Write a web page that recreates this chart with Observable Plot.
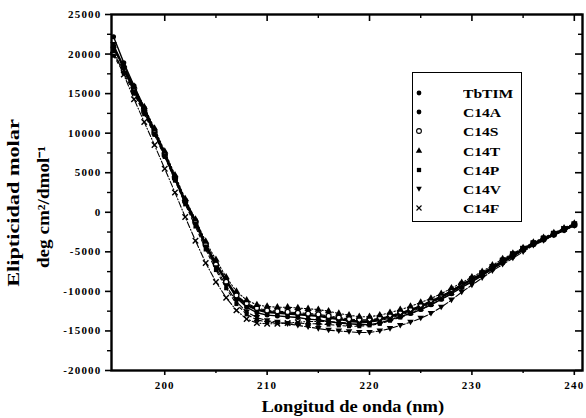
<!DOCTYPE html>
<html><head><meta charset="utf-8">
<script src="https://cdn.jsdelivr.net/npm/d3@7"></script>
<script src="https://cdn.jsdelivr.net/npm/@observablehq/plot@0.6"></script>
<style>
body{margin:0;background:#fff;}
#wrap{position:relative;width:586px;height:418px;overflow:hidden;font-family:"Liberation Serif",serif;font-weight:bold;color:#000;background:#fff}
#wrap svg{position:absolute;left:0;top:0}
.lab{position:absolute;white-space:nowrap;line-height:1;font-weight:bold}
#legend{position:absolute;left:412px;top:72px;width:108px;height:148px;border:1.5px solid #000;background:#fff}
.row{position:absolute;left:0;height:14px;width:100%}
.row svg{position:absolute;left:22px;top:1px}
.row span{position:absolute;left:50px;top:0;font-size:12px;transform-origin:0 50%;white-space:nowrap}
#wrap g[aria-label$="tick label"] text{letter-spacing:1.2px}
</style></head><body><div id="wrap"></div>
<script>
// wavelength (nm)
const wavelength = [195,196,197,198,199,200,201,202,203,204,205,206,207,208,209,210,211,212,213,214,215,216,217,218,219,220,221,222,223,224,225,226,227,228,229,230,231,232,233,234,235,236,237,238,239,240];
const seriesNames = ["TbTIM","C14A","C14S","C14T","C14P","C14V","C14F"];
// molar ellipticity (deg cm2/dmol)
const TbTIM = [21000,18300,15600,13000,10200,7300,4300,1300,-1200,-4200,-6600,-8600,-10600,-11700,-12300,-12600,-12700,-12800,-12900,-13000,-13100,-13300,-13500,-13700,-13800,-13800,-13500,-13200,-12800,-12400,-11900,-11300,-10700,-10000,-9200,-8500,-7800,-7000,-6200,-5400,-4700,-4000,-3400,-2800,-2200,-1600];
const C14A = [22200,18900,16000,13200,10400,7500,4500,1500,-1000,-4000,-6400,-8700,-10800,-12000,-12700,-13000,-13100,-13200,-13300,-13500,-13600,-13800,-14000,-14100,-14200,-14200,-14000,-13600,-13200,-12800,-12300,-11700,-11000,-10300,-9500,-8800,-8000,-7200,-6400,-5600,-4800,-4100,-3500,-2900,-2300,-1700];
const C14S = [20000,18000,15300,12700,10000,7200,4300,1400,-1300,-4100,-6600,-8800,-10500,-11500,-12100,-12400,-12500,-12600,-12700,-12800,-12900,-13100,-13300,-13500,-13600,-13600,-13400,-13100,-12700,-12300,-11800,-11200,-10600,-9900,-9100,-8400,-7700,-6900,-6100,-5300,-4600,-3900,-3300,-2700,-2100,-1500];
const C14T = [20400,18600,15900,13300,10600,7700,4700,1700,-900,-3700,-6000,-8200,-10000,-11100,-11700,-11900,-12000,-12000,-12100,-12200,-12300,-12500,-12800,-13000,-13200,-13200,-13000,-12700,-12300,-11900,-11400,-10900,-10300,-9600,-8900,-8200,-7500,-6700,-5900,-5200,-4500,-3800,-3200,-2600,-2000,-1400];
const C14P = [19800,17600,15000,12400,9800,7000,4000,1000,-1800,-4700,-7300,-9600,-11600,-12900,-13600,-13900,-14000,-14000,-14000,-14100,-14100,-14200,-14300,-14400,-14400,-14300,-14100,-13700,-13300,-12800,-12300,-11700,-11000,-10300,-9500,-8700,-7900,-7100,-6300,-5500,-4800,-4100,-3400,-2800,-2200,-1600];
const C14V = [21200,18000,15200,12600,9900,7100,4200,1200,-1500,-4400,-7000,-9300,-11300,-12600,-13300,-13700,-13900,-14100,-14300,-14500,-14700,-14900,-15000,-15100,-15200,-15200,-15000,-14700,-14300,-13900,-13400,-12800,-12000,-11100,-10100,-9200,-8300,-7400,-6600,-5800,-5000,-4200,-3600,-2900,-2300,-1700];
const C14F = [20500,17400,14300,11400,8500,5500,2500,-600,-3600,-6400,-8800,-10800,-12400,-13500,-14000,-14100,-14100,-14000,-13900,-13800,-13800,-13800,-13900,-14000,-14000,-13900,-13700,-13400,-13000,-12600,-12100,-11500,-10800,-10100,-9300,-8500,-7700,-6900,-6100,-5300,-4600,-3900,-3300,-2700,-2100,-1500];
const xTicks = [200,210,220,230,240];
const xMinor = [205,215,225,235];
const yTicks = [-20000,-15000,-10000,-5000,0,5000,10000,15000,20000,25000];
const yMinor = [-17500,-12500,-7500,-2500,2500,7500,12500,17500,22500];
const xLabel = "Longitud de onda (nm)";
const yLabel1 = "Elipticidad molar";
const yLabel2 = "deg cm²/dmol⁻¹";

const allSeries = [TbTIM,C14A,C14S,C14T,C14P,C14V,C14F];
const data = seriesNames.flatMap((name,i) => allSeries[i].map((v,j) => ({name, x: wavelength[j], y: v})));

const triangleDown = {draw(ctx, size){ const s = Math.sqrt(size); ctx.moveTo(0, s*0.62); ctx.lineTo(s*0.66, -s*0.5); ctx.lineTo(-s*0.66, -s*0.5); ctx.closePath(); }};
const styles = {
  TbTIM:{sw:2.4, dash:null, symbol:"circle", fill:"black", r:2.7},
  C14A:{sw:1.4, dash:null, symbol:"circle", fill:"black", r:2.5},
  C14S:{sw:1.1, dash:"4,2", symbol:"circle", fill:"white", r:2.5},
  C14T:{sw:1.1, dash:"1.5,2", symbol:"triangle", fill:"black", r:2.7},
  C14P:{sw:1.1, dash:"3,3", symbol:"square", fill:"black", r:2.3},
  C14V:{sw:1.1, dash:"6,2", symbol:triangleDown, fill:"black", r:2.8},
  C14F:{sw:1.1, dash:"6,2,1,2", symbol:"times", fill:"none", r:2.6}
};

const marks = [];
for (const name of seriesNames) {
  const s = styles[name];
  const d = data.filter(e => e.name === name);
  marks.push(Plot.line(d, {x:"x", y:"y", stroke:"black", strokeWidth:s.sw, strokeDasharray:s.dash}));
}
for (const name of seriesNames) {
  const s = styles[name];
  const d = data.filter(e => e.name === name);
  const o = {x:"x", y:"y", symbol:s.symbol, r:s.r};
  if (s.fill === "none") Object.assign(o, {stroke:"black", strokeWidth:1.4, fill:"none"});
  else if (s.fill === "white") Object.assign(o, {stroke:"black", strokeWidth:1.3, fill:"white"});
  else Object.assign(o, {fill:"black", stroke:"none"});
  marks.push(Plot.dot(d, o));
}

const chart = Plot.plot({
  width:586, height:418,
  marginLeft:111, marginRight:4, marginTop:14, marginBottom:48,
  style:{fontFamily:"Liberation Serif", fontWeight:"bold", fontSize:"11px", color:"black", background:"white"},
  x:{domain:[194.8,240.8]},
  y:{domain:[-20000,25000]},
  marks:[
    Plot.axisY({ticks:yTicks, tickSize:6, tickPadding:4, tickFormat:d=>String(d), label:null, strokeWidth:1.6}),
    Plot.axisY({ticks:yMinor, tickSize:4, tickFormat:()=>"", label:null, strokeWidth:1.4}),
    Plot.axisY({ticks:yTicks, anchor:"left", frameAnchor:"right", tickSize:7, tickFormat:()=>"", label:null, strokeWidth:1.6}),
    Plot.axisY({ticks:yMinor, anchor:"left", frameAnchor:"right", tickSize:4, tickFormat:()=>"", label:null, strokeWidth:1.4}),
    Plot.axisX({ticks:xTicks, tickSize:5, tickPadding:6, tickFormat:d=>String(d), label:null, strokeWidth:1.6}),
    Plot.axisX({ticks:xMinor, tickSize:3, tickFormat:()=>"", label:null, strokeWidth:1.4}),
    Plot.axisX({ticks:xTicks, anchor:"bottom", frameAnchor:"top", tickSize:7, tickFormat:()=>"", label:null, strokeWidth:1.6}),
    Plot.axisX({ticks:xMinor, anchor:"bottom", frameAnchor:"top", tickSize:4, tickFormat:()=>"", label:null, strokeWidth:1.4}),
    ...marks,
    Plot.frame({stroke:"black", strokeWidth:2.4})
  ]
});
const wrap = document.getElementById("wrap");
wrap.appendChild(chart);

function addLabel(text, size, cx, cy, targetLen, rotate) {
  const el = document.createElement("div");
  el.className = "lab";
  el.style.fontSize = size + "px";
  el.textContent = text;
  wrap.appendChild(el);
  const w = el.offsetWidth, h = el.offsetHeight;
  const sx = targetLen / w;
  el.style.left = (cx - w/2) + "px";
  el.style.top = (cy - h/2) + "px";
  el.style.transform = (rotate ? "rotate(-90deg) " : "") + `scaleX(${sx})`;
  return el;
}
addLabel(xLabel, 17, 353, 406, 183, false);
addLabel(yLabel1, 16, 14, 203, 167, true);
addLabel(yLabel2, 16, 44, 207, 122, true);

// legend
const legend = document.createElement("div");
legend.id = "legend";
wrap.appendChild(legend);
seriesNames.forEach((name,i) => {
  const s = styles[name];
  const row = document.createElement("div");
  row.className = "row";
  row.style.top = (14 + i*19.2) + "px";
  const sym = typeof s.symbol === "string" ? {circle:d3.symbolCircle, triangle:d3.symbolTriangle, square:d3.symbolSquare, times:d3.symbolTimes}[s.symbol] : s.symbol;
  const path = d3.symbol(sym, Math.PI*2.4*2.4)();
  const fill = s.fill === "none" ? "none" : s.fill;
  row.innerHTML = `<svg width="12" height="12"><path transform="translate(6,6)" d="${path}" fill="${fill}" stroke="black" stroke-width="${s.fill==='black'?0:1.1}"/></svg><span>${name}</span>`;
  legend.appendChild(row);
  const sp = row.querySelector("span");
  sp.style.transform = `scaleX(${1.3})`;
});
</script></body></html>
